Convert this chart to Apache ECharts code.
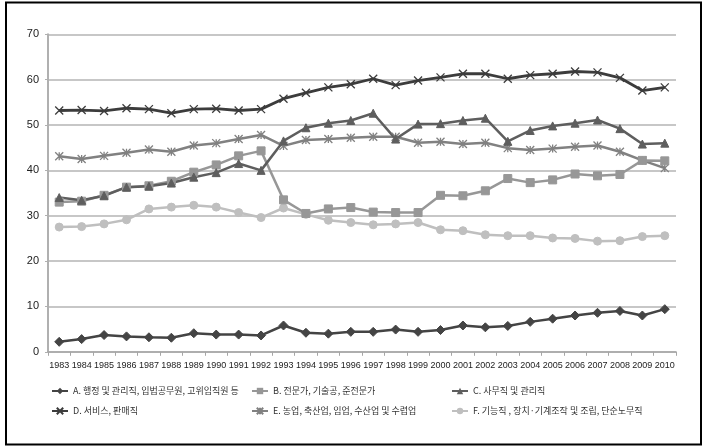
<!DOCTYPE html>
<html><head><meta charset="utf-8">
<script src="https://cdn.jsdelivr.net/npm/echarts@6/dist/echarts.min.js"></script>
<style>html,body{margin:0;padding:0;background:#fff}#c{width:708px;height:448px}</style>
</head><body><div id="c"></div>
<script>
const years = ['1983','1984','1985','1986','1987','1988','1989','1990','1991','1992','1993','1994','1995','1996','1997','1998','1999','2000','2001','2002','2003','2004','2005','2006','2007','2008','2009','2010'];
const yTicks = [0,10,20,30,40,50,60,70];
const nameA = 'A. 행정 및 관리직, 입법공무원, 고위임직원 등';
const nameB = 'B. 전문가, 기술공, 준전문가';
const nameC = 'C. 사무직 및 관리직';
const nameD = 'D. 서비스, 판매직';
const nameE = 'E. 농업, 축산업, 임업, 수산업 및 수렵업';
const nameF = 'F. 기능직 , 장치·기계조작 및 조립, 단순노무직';
const valuesA = [2.2,2.8,3.7,3.4,3.2,3.1,4.1,3.8,3.8,3.6,5.8,4.2,4.0,4.4,4.4,4.9,4.4,4.8,5.8,5.4,5.7,6.6,7.3,8.0,8.6,9.0,8.0,9.4];
const valuesB = [33.0,33.2,34.5,36.3,36.6,37.6,39.6,41.2,43.2,44.3,33.5,30.5,31.5,31.8,30.8,30.7,30.7,34.5,34.4,35.5,38.2,37.3,37.9,39.2,38.8,39.1,42.2,42.1];
const valuesC = [34.0,33.4,34.4,36.3,36.5,37.2,38.5,39.5,41.5,40.0,46.5,49.4,50.4,51.0,52.6,46.9,50.2,50.3,51.0,51.5,46.4,48.8,49.8,50.4,51.1,49.2,45.8,46.0];
const valuesD = [53.2,53.3,53.1,53.7,53.5,52.6,53.5,53.6,53.2,53.5,55.8,57.1,58.3,59.0,60.2,58.8,59.8,60.5,61.3,61.3,60.2,61.0,61.3,61.8,61.6,60.4,57.6,58.3];
const valuesE = [43.1,42.5,43.2,43.9,44.6,44.1,45.5,46.0,46.9,47.8,45.4,46.7,46.9,47.2,47.4,47.4,46.1,46.3,45.8,46.1,44.9,44.5,44.8,45.2,45.5,44.1,42.2,40.5];
const valuesF = [27.5,27.6,28.2,29.1,31.5,31.9,32.3,31.9,30.7,29.6,31.7,30.3,29.0,28.5,28.0,28.2,28.5,26.9,26.7,25.8,25.6,25.6,25.1,25.0,24.4,24.5,25.4,25.6];

const X_PATH = 'path://M0,0L10,10M0,10L10,0';
const AST_PATH = 'path://M0,0L10,10M0,10L10,0M5,0L5,10';
function line(name, data, color, symbol, size, width, hollow) {
  return {
    name, type: 'line', data, symbol, symbolSize: size,
    lineStyle: { color, width },
    itemStyle: hollow ? { color: 'rgba(0,0,0,0)', borderColor: color, borderWidth: 1.3 } : { color, borderColor: color },
    emphasis: { disabled: true }
  };
}
const legendText = { fontFamily: '"Noto Sans CJK KR", sans-serif', fontSize: 9, color: '#333', lineHeight: 12 };
function legend(left, names) {
  return { orient: 'vertical', left, top: 385, itemWidth: 16, itemHeight: 8, itemGap: 8, selectedMode: false, padding: 0,
    textStyle: legendText, data: names };
}
const chart = echarts.init(document.getElementById('c'), null, { renderer: 'canvas' });
chart.setOption({
  animation: false,
  backgroundColor: '#fff',
  graphic: [{ type: 'rect', shape: { x: 6, y: 2.5, width: 695, height: 442 }, style: { fill: 'none', stroke: '#000', lineWidth: 2 }, silent: true }],
  grid: { left: 48, right: 32, top: 34.3, bottom: 96.2 },
  xAxis: {
    type: 'category', data: years, boundaryGap: true,
    axisLine: { lineStyle: { color: '#a6a6a6', width: 1.5 } },
    axisTick: { show: true, length: 4, lineStyle: { color: '#a6a6a6' } },
    axisLabel: { interval: 0, fontSize: 9, color: '#222', margin: 9, fontFamily: '"Liberation Sans", sans-serif' }
  },
  yAxis: {
    type: 'value', min: 0, max: 70, interval: 10,
    axisLine: { show: true, lineStyle: { color: '#b0b0b0', width: 2 } },
    axisTick: { show: true, length: 3, lineStyle: { color: '#b0b0b0' } },
    axisLabel: { fontSize: 11, color: '#222', margin: 9, fontFamily: '"Liberation Sans", sans-serif',
      formatter: v => yTicks.includes(v) ? String(v) : '' },
    splitLine: { lineStyle: { color: '#b4b4b4', width: 1.5 } }
  },
  legend: [legend(51, [nameA, nameD]), legend(251, [nameB, nameE]), legend(451, [nameC, nameF])],
  series: [
    line(nameF, valuesF, '#bfbfbf', 'circle', 8, 2.5, false),
    line(nameE, valuesE, '#818181', AST_PATH, 8, 2.5, true),
    line(nameB, valuesB, '#979797', 'rect', 8, 2.5, false),
    line(nameC, valuesC, '#5e5e5e', 'triangle', 8, 2.5, false),
    line(nameD, valuesD, '#3c3c3c', X_PATH, 8, 2.8, true),
    line(nameA, valuesA, '#444444', 'diamond', 9, 2.5, false)
  ]
});
</script></body></html>
